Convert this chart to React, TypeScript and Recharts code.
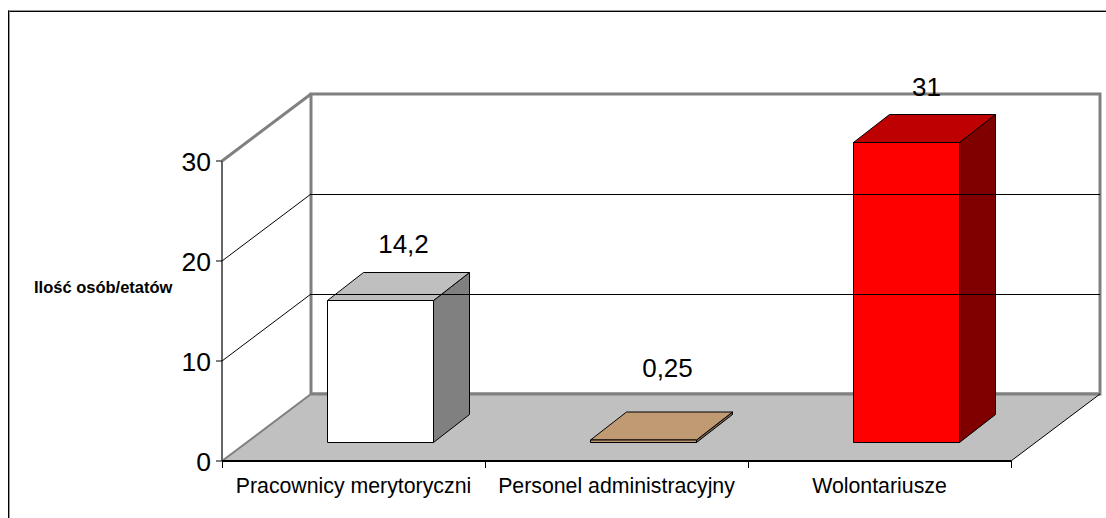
import { BarChart, Bar, XAxis, YAxis, LabelList, ReferenceArea, ReferenceLine } from 'recharts';

const categories = ['Pracownicy merytoryczni', 'Personel administracyjny', 'Wolontariusze'];
const values = [14.2, 0.25, 31];
const valueLabels = ['14,2', '0,25', '31'];
const yTicks = [0, 10, 20, 30];
const innerGridTicks = [10, 20];

const data = categories.map((name, i) => ({ name, value: values[i], label: valueLabels[i] }));

const AXIS_MAX = 30;
// excel style 3d box: how far the walls go back, where a bar stands on the floor, how deep it is
const WALL = { dx: 89, dy: -67 };
const BAR_SHIFT = { dx: 27, dy: -19 };
const BAR_DEPTH = { dx: 36, dy: -28 };

const barColors = [
  { front: '#ffffff', top: '#bfbfbf', side: '#808080' },
  { front: '#c09a73', top: '#c09a73', side: '#7f6650' },
  { front: '#ff0000', top: '#bf0000', side: '#800000' },
];
const labelNudge = [
  { dx: 23, dy: -56 },
  { dx: 24, dy: -72 },
  { dx: 20, dy: -45 },
];

const pts = (list: number[][]) => list.map((p) => p.join(',')).join(' ');

// walls, floor and side axis of the 3d box
const Walls = ({ x, y, width, height }: any) => {
  const bottom = y + height;
  const right = x + width;
  return (
    <g>
      <rect x={x + WALL.dx} y={y + WALL.dy} width={width} height={height} fill="#ffffff" stroke="#808080" strokeWidth={3} />
      <polygon
        points={pts([[x, bottom], [right, bottom], [right + WALL.dx, bottom + WALL.dy], [x + WALL.dx, bottom + WALL.dy]])}
        fill="#c0c0c0"
      />
      <line x1={x} y1={y} x2={x + WALL.dx} y2={y + WALL.dy} stroke="#808080" strokeWidth={3} />
      <line x1={x} y1={bottom} x2={x + WALL.dx} y2={bottom + WALL.dy} stroke="#808080" strokeWidth={2} />
      <line x1={x + WALL.dx} y1={bottom + WALL.dy} x2={right + WALL.dx} y2={bottom + WALL.dy} stroke="#808080" strokeWidth={3} />
      <line x1={right} y1={bottom} x2={right + WALL.dx} y2={bottom + WALL.dy} stroke="#000000" strokeWidth={1} />
      <line x1={x} y1={y} x2={x} y2={bottom} stroke="#666666" strokeWidth={2} />
    </g>
  );
};

const GridLine3d = ({ x1, y1, x2, y2 }: any) => (
  <g stroke="#000000" strokeWidth={1} fill="none">
    <line x1={x1} y1={y1} x2={x1 + WALL.dx} y2={y1 + WALL.dy} />
    <line x1={x1 + WALL.dx} y1={y1 + WALL.dy + 0.5} x2={x2 + WALL.dx} y2={y2 + WALL.dy + 0.5} />
  </g>
);

const Box3d = ({ x, y, width, height, index, value }: any) => {
  const c = barColors[index];
  // the bar stops at the top of the axis, even when the value is above it
  const realValue = Array.isArray(value) ? value[1] : value;
  const h = Math.min(height, (height / realValue) * AXIS_MAX);
  const left = x + BAR_SHIFT.dx;
  const right = left + width;
  const bottom = y + height + BAR_SHIFT.dy + 0.5;
  const top = bottom - h;
  const { dx, dy } = BAR_DEPTH;
  return (
    <g stroke="#000000" strokeWidth={1} strokeLinejoin="round">
      <polygon points={pts([[right, top], [right + dx, top + dy], [right + dx, bottom + dy], [right, bottom]])} fill={c.side} />
      <polygon points={pts([[left, top], [left + dx, top + dy], [right + dx, top + dy], [right, top]])} fill={c.top} />
      <rect x={left} y={top} width={width} height={h} fill={c.front} />
    </g>
  );
};

const ValueLabel = ({ x, y, width, index, value }: any) => {
  const nudge = labelNudge[index];
  return (
    <text
      x={x + width / 2 + BAR_SHIFT.dx + nudge.dx}
      y={y + BAR_SHIFT.dy + nudge.dy}
      textAnchor="middle"
      dominantBaseline="central"
      fontSize={26}
      fill="#000000"
    >
      {value}
    </text>
  );
};

// ticks sit on the category boundaries, the labels between them
const CategoryTick = ({ x, y, width, index, payload }: any) => {
  const band = width / categories.length;
  const axisY = y - 2;
  return (
    <g>
      <line x1={x - band / 2 + 0.5} y1={axisY} x2={x - band / 2 + 0.5} y2={axisY + 7} stroke="#000000" />
      {index === categories.length - 1 && (
        <line x1={x + band / 2 + 0.5} y1={axisY} x2={x + band / 2 + 0.5} y2={axisY + 7} stroke="#000000" />
      )}
      <text x={x} y={axisY + 25} textAnchor="middle" dominantBaseline="central" fontSize={21.3} fill="#000000">
        {payload.value}
      </text>
    </g>
  );
};

export default function App() {
  return (
    <div style={{ position: 'absolute', left: 0, top: 0, width: 1106, height: 518, overflow: 'hidden', background: '#ffffff', fontFamily: '"Liberation Sans", Arial, sans-serif' }}>
      <div style={{ position: 'absolute', left: 8, top: 10, width: 1200, height: 600, borderTop: '1px solid #999999', borderLeft: '1px solid #000000' }} />
      <div style={{ position: 'absolute', left: 9, top: 11, width: 1200, height: 600, borderTop: '1px solid #000000', borderLeft: '1px solid #999999' }} />
      <div style={{ position: 'absolute', left: 0, top: 0 }}>
        <BarChart width={1106} height={518} data={data} margin={{ top: 61, right: 95, bottom: 0, left: 0 }} barCategoryGap={78.5}>
          <XAxis
            dataKey="name"
            height={57}
            axisLine={{ stroke: '#000000', strokeWidth: 2 }}
            tickLine={false}
            tickSize={0}
            tick={<CategoryTick />}
            interval={0}
          />
          <YAxis
            width={222}
            domain={[0, 40]}
            ticks={yTicks}
            axisLine={false}
            tickLine={{ stroke: '#000000' }}
            tickSize={6}
            tickMargin={5}
            tick={{ fontSize: 26.5, fill: '#000000', dy: 1 }}
            label={{ value: 'Ilość osób/etatów', position: 'insideLeft', offset: 34, dy: 26, fontSize: 16.5, fontWeight: 'bold', fill: '#000000' }}
          />
          <ReferenceArea y1={0} y2={AXIS_MAX} shape={<Walls />} ifOverflow="visible" />
          {innerGridTicks.map((t) => (
            <ReferenceLine key={t} y={t} shape={<GridLine3d />} ifOverflow="visible" />
          ))}
          <Bar dataKey="value" shape={<Box3d />} isAnimationActive={false}>
            <LabelList dataKey="label" content={<ValueLabel />} />
          </Bar>
        </BarChart>
      </div>
    </div>
  );
}
